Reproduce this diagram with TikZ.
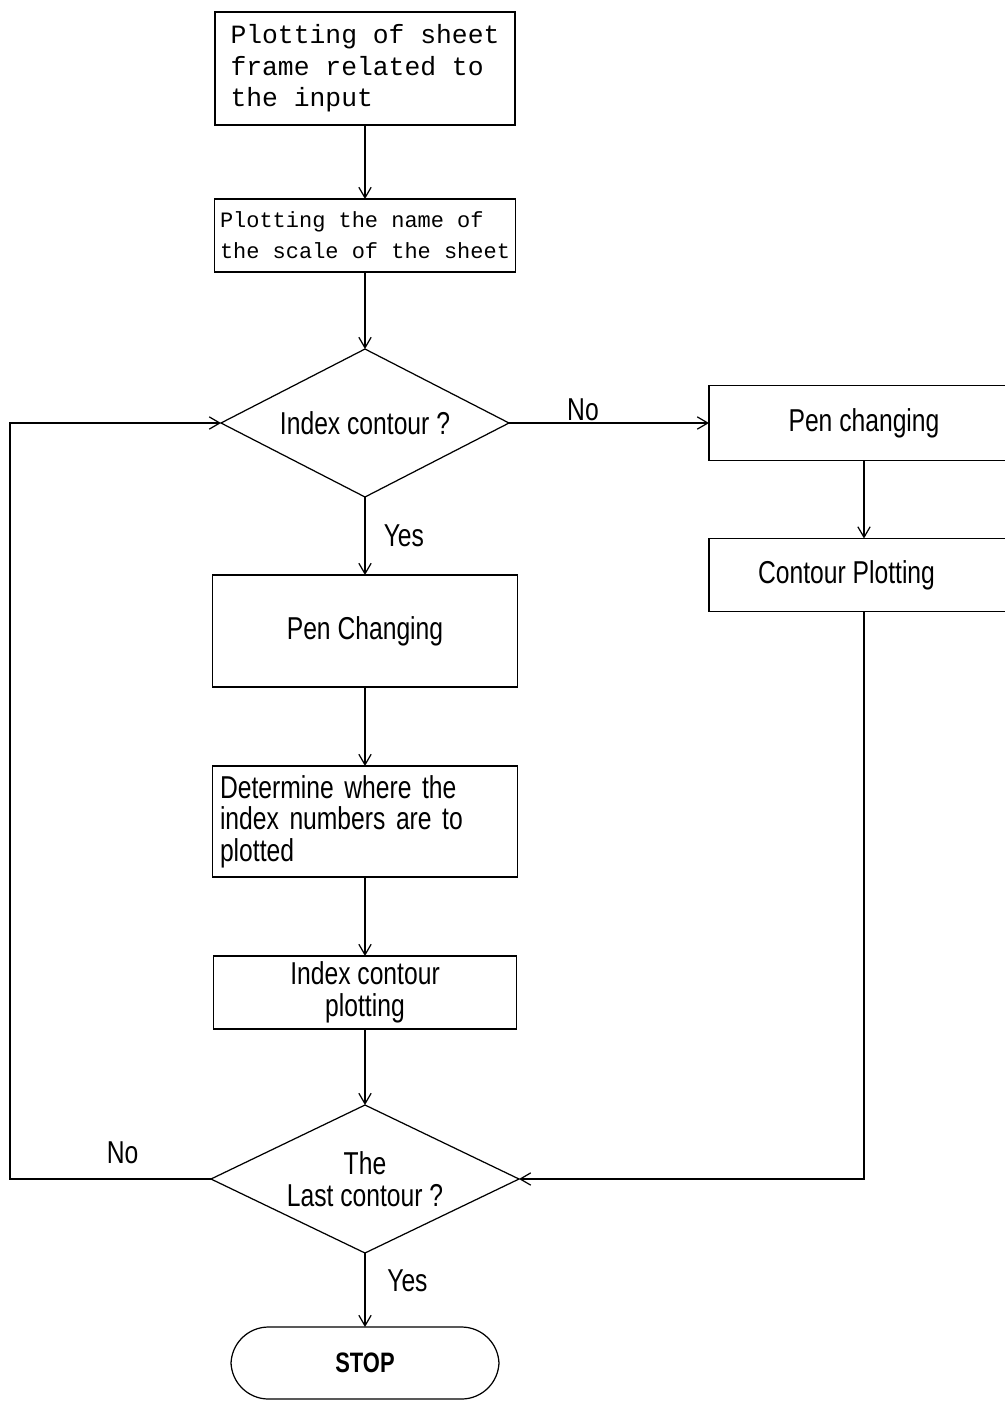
\documentclass[tikz,border=0pt]{standalone}
\usepackage{fontspec}
\setmainfont{Liberation Sans}
\newfontfamily\plotfont[FakeStretch=0.78]{Liberation Sans}
\newfontfamily\plotmono{Liberation Mono}
\usetikzlibrary{positioning,arrows.meta,shapes.geometric}

\begin{document}
\begin{tikzpicture}[
  >={Straight Barb[length=6pt,width=7pt]},
  font=\plotfont\fontsize{18pt}{18pt}\selectfont,
  box/.style={draw, line width=0.7pt, inner sep=2pt, outer sep=0pt, minimum width=6.1cm, align=center},
  monobox/.style={box, font=\plotmono\fontsize{15pt}{18pt}\selectfont, align=left},
  decision/.style={draw, diamond, line width=0.7pt, aspect=1.95, inner sep=0pt, outer sep=0pt, minimum width=5.76cm, minimum height=2.96cm, align=center},
  terminal/.style={draw, line width=0.7pt, outer sep=0pt, rounded corners=0.75cm, minimum width=5.36cm, minimum height=1.44cm, font=\plotfont\bfseries\fontsize{16pt}{16pt}\selectfont},
  arrow/.style={->, line width=0.7pt}
]
\useasboundingbox (0,0) rectangle (20.1,-28.02);

\node[monobox, minimum width=6cm, minimum height=2.26cm] (frame) at (7.3,-1.37) {Plotting of sheet\\frame related to\\the input};
\node[monobox, minimum width=6.02cm, minimum height=1.46cm, font=\plotmono\fontsize{12.5pt}{17.6pt}\selectfont, below=1.48cm of frame] (name) {Plotting the name of\\the scale of the sheet};
\node[decision, below=1.54cm of name] (idx) {Index contour ?};
\node[box, minimum height=2.24cm, below=1.56cm of idx] (penA) {Pen Changing};
\node[box, minimum height=2.22cm, inner xsep=4pt, text width=5.8cm, align=left, below=1.58cm of penA] (where) {Determine where the\\index numbers are to\\plotted};
\node[box, minimum width=6.06cm, minimum height=1.46cm, below=1.58cm of where] (idxplot) {Index contour\\plotting};
\node[decision, minimum width=6.16cm, below=1.52cm of idxplot] (last) {The\\Last contour ?};
\node[terminal, below=1.48cm of last] (stop) {STOP};

\node[box, minimum width=6.2cm, minimum height=1.5cm, right=4cm of idx] (penB) {Pen changing};
\node[box, minimum width=6.2cm, minimum height=1.46cm, below=1.56cm of penB] (cplot) {Contour Plotting\hspace{0.7cm}};

\coordinate (loop) at (0.2,0 |- last.west);

\draw[arrow] (frame) -- (name);
\draw[arrow] (name) -- (idx);
\draw[arrow] (idx) -- node[above, pos=0.37, inner sep=1pt] {No} (penB);
\draw[arrow] (idx) -- node[right, xshift=7pt] {Yes} (penA);
\draw[arrow] (penA) -- (where);
\draw[arrow] (where) -- (idxplot);
\draw[arrow] (idxplot) -- (last);
\draw[arrow] (penB) -- (cplot);
\draw[arrow] (cplot) |- (last);
\draw[arrow] (last) -- node[above, pos=0.44, yshift=5pt] {No} (loop) |- (idx);
\draw[arrow] (last) -- node[right, pos=0.37, xshift=9pt] {Yes} (stop);
\end{tikzpicture}
\end{document}
